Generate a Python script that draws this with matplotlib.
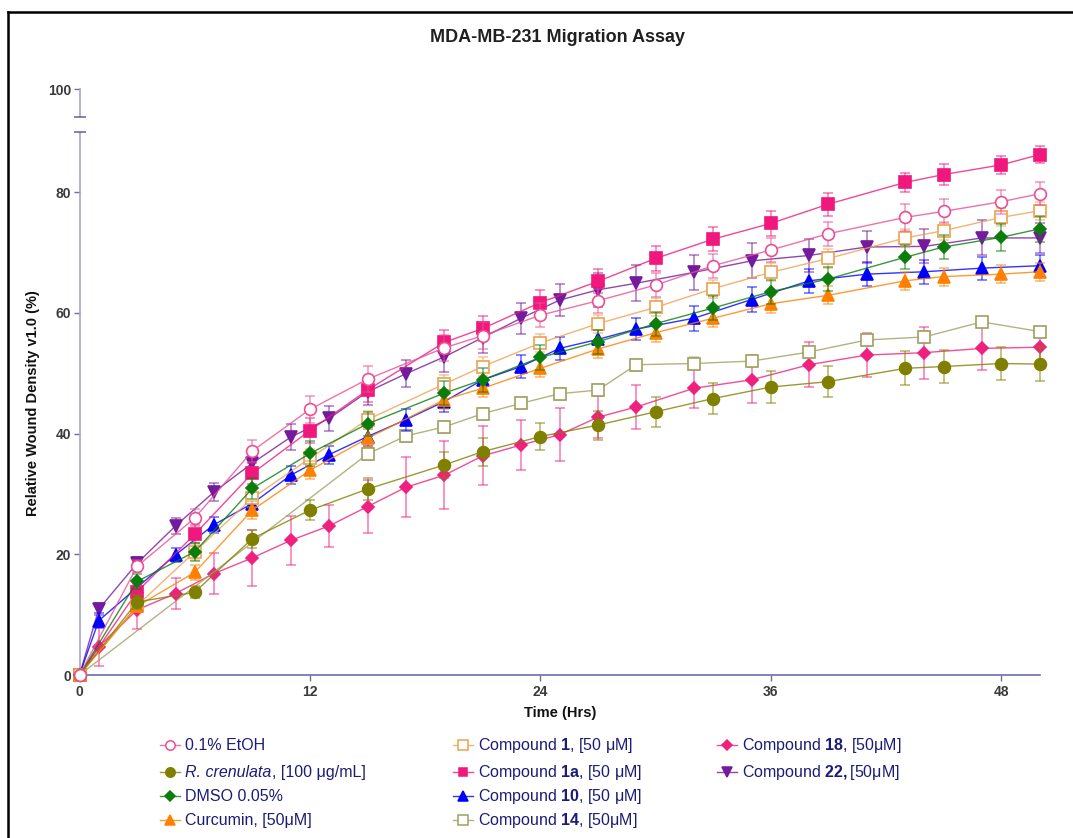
import matplotlib
matplotlib.use('Agg')
import matplotlib.pyplot as plt
from matplotlib.lines import Line2D

plt.rcParams['font.family'] = ['Liberation Sans', 'DejaVu Sans']
plt.rcParams['mathtext.fontset'] = 'custom'
plt.rcParams['mathtext.rm'] = 'Liberation Sans'
plt.rcParams['mathtext.it'] = 'Liberation Sans:italic'
plt.rcParams['mathtext.bf'] = 'Liberation Sans:bold'

# ---------------- data ----------------
t_a = [0, 3, 6, 9, 12, 15, 19, 21, 24, 27, 30, 33, 36, 39, 43, 45, 48, 50]
t_b = [0, 1, 3, 5, 7, 9, 11, 13, 15, 17, 19, 21, 23, 25, 27, 29, 32, 35, 38, 41, 44, 47, 50]
t_14 = [0, 15, 17, 19, 21, 23, 25, 27, 29, 32, 35, 38, 41, 44, 47, 50]

etoh = [0, 18.0, 26.0, 37.1, 44.0, 49.0, 54.2, 56.2, 59.6, 62.0, 64.6, 67.8, 70.4, 73.1, 75.8, 76.8, 78.4, 79.7]
etoh_err = [0, 1.0, 1.5, 1.8, 2.2, 2.2, 2.2, 2.2, 2.0, 2.0, 2.0, 2.0, 2.0, 2.0, 2.2, 2.0, 2.0, 1.9]

rcren = [0, 12.1, 13.7, 22.6, 27.3, 30.8, 34.8, 37.0, 39.5, 41.4, 43.6, 45.8, 47.7, 48.6, 50.8, 51.1, 51.6, 51.5]
rcren_err = [0, 1.2, 1.0, 1.5, 1.7, 1.8, 2.2, 2.3, 2.3, 2.4, 2.5, 2.5, 2.6, 2.6, 2.8, 2.8, 2.8, 2.8]

dmso = [0, 15.5, 20.4, 30.9, 36.7, 41.6, 46.7, 48.9, 52.6, 55.2, 58.2, 60.8, 63.5, 65.6, 69.2, 70.9, 72.5, 73.9]
dmso_err = [0, 1.2, 1.5, 1.8, 2.0, 2.0, 2.0, 2.0, 2.0, 2.0, 2.0, 2.0, 2.0, 2.0, 2.0, 2.0, 2.2, 2.1]

curcumin = [0, 11.4, 17.0, 27.3, 33.9, 39.2, 45.6, 47.5, 50.8, 54.0, 56.7, 59.1, 61.5, 62.9, 65.3, 66.0, 66.4, 66.8]
curcumin_err = [0, 1.0, 1.2, 1.5, 1.5, 1.5, 1.5, 1.5, 1.5, 1.5, 1.5, 1.5, 1.5, 1.5, 1.5, 1.5, 1.5, 1.5]

cmp1 = [0, 11.5, 20.4, 29.3, 35.9, 42.3, 48.2, 51.1, 55.0, 58.2, 60.9, 64.0, 66.7, 69.0, 72.4, 73.6, 75.8, 76.9]
cmp1_err = [0, 1.0, 1.3, 1.5, 1.5, 1.5, 1.5, 1.5, 1.5, 1.5, 1.5, 1.5, 1.5, 1.5, 1.5, 1.5, 1.5, 1.5]

cmp1a = [0, 13.8, 23.3, 33.4, 40.5, 47.2, 55.1, 57.4, 61.7, 65.2, 69.0, 72.2, 74.8, 78.0, 81.6, 82.9, 84.5, 86.2]
cmp1a_err = [0, 1.2, 1.5, 1.8, 2.0, 2.0, 2.0, 2.0, 2.0, 2.0, 2.1, 2.0, 2.1, 1.9, 1.6, 1.7, 1.5, 1.4]

cmp10 = [0, 9.0, 14.5, 19.9, 24.9, 28.4, 33.1, 36.5, 39.5, 42.3, 45.3, 48.9, 51.1, 54.1, 55.6, 57.3, 59.1, 62.2, 65.3, 66.4, 66.8, 67.4, 67.8]
cmp10_err = [0, 1.2, 1.2, 1.2, 1.3, 1.5, 1.5, 1.5, 1.6, 1.8, 1.8, 1.8, 1.9, 1.9, 1.9, 1.8, 2.1, 2.1, 2.0, 2.0, 2.0, 1.9, 1.8]

cmp14 = [0, 36.6, 39.6, 41.1, 43.3, 45.0, 46.6, 47.2, 51.4, 51.6, 52.0, 53.5, 55.5, 56.0, 58.5, 56.9]
cmp14_err = [0, 1.0, 1.0, 1.0, 1.0, 1.0, 1.0, 1.0, 1.0, 1.0, 1.0, 1.0, 1.0, 1.0, 0.8, 0.8]

cmp18 = [0, 4.7, 10.8, 13.5, 16.8, 19.4, 22.3, 24.7, 27.9, 31.1, 33.1, 36.3, 38.1, 39.8, 42.7, 44.4, 47.5, 48.9, 51.4, 53.0, 53.4, 54.1, 54.3]
cmp18_err = [0, 3.2, 3.2, 2.5, 3.4, 4.6, 4.0, 3.5, 4.4, 5.0, 5.6, 4.9, 4.2, 4.4, 3.5, 3.7, 3.3, 3.9, 3.7, 3.6, 4.3, 3.6, 3.0]

cmp22 = [0, 10.9, 18.5, 24.7, 30.3, 35.1, 39.4, 42.5, 46.9, 49.9, 52.7, 55.9, 59.1, 62.1, 63.8, 64.9, 66.7, 68.6, 69.5, 70.9, 71.0, 72.4, 72.4]
cmp22_err = [0, 1.0, 1.0, 1.3, 1.5, 2.0, 2.1, 2.1, 2.2, 2.2, 2.5, 2.5, 2.6, 2.7, 2.8, 3.0, 2.9, 2.9, 2.8, 2.6, 2.8, 2.9, 2.5]

# label parts: (italic prefix or None, rest)
labels = [
    (None, '0.1% EtOH'),
    ('R. crenulata', ', [100 μg/mL]'),
    (None, 'DMSO 0.05%'),
    (None, 'Curcumin, [50μM]'),
    (None, r'Compound $\mathbf{1}$, [50 μM]'),
    (None, r'Compound $\mathbf{1a}$, [50 μM]'),
    (None, r'Compound $\mathbf{10}$, [50 μM]'),
    (None, r'Compound $\mathbf{14}$, [50μM]'),
    (None, r'Compound $\mathbf{18}$, [50μM]'),
    (None, r'Compound $\mathbf{22,}$[50μM]'),
]
times = [t_a, t_a, t_a, t_a, t_a, t_a, t_b, t_14, t_b, t_b]
values = [etoh, rcren, dmso, curcumin, cmp1, cmp1a, cmp10, cmp14, cmp18, cmp22]
errors = [etoh_err, rcren_err, dmso_err, curcumin_err, cmp1_err, cmp1a_err,
          cmp10_err, cmp14_err, cmp18_err, cmp22_err]

# ---------------- styles ----------------
colors = ['#ea4f93', '#808000', '#0a7d0a', '#ff8000', '#efa050', '#f0187c',
          '#0000ff', '#a0a060', '#f0207f', '#741a9c']
markers = ['o', 'o', 'D', '^', 's', 's', '^', 's', 'D', 'v']
msizes = [8.5, 8.5, 6.3, 8.5, 8.3, 8, 8.5, 8.3, 6.3, 8.5]
filled = [False, True, True, True, False, True, True, False, True, True]

W, H = 1073, 838
fig = plt.figure(figsize=(W / 100, H / 100), dpi=100)


def fx(px):
    return px / W


def fy(py):
    return 1 - py / H


YSP = '#a4a4d0'
XSP = '#6c6cae'
TLC = '#3a3a3a'

ax = fig.add_axes([fx(79.5), fy(675), fx(1039.5) - fx(79.5), fy(131.7) - fy(675)])
axt = fig.add_axes([fx(79.5), fy(117), fx(1039.5) - fx(79.5), fy(89.5) - fy(117)])

for i in reversed(range(len(labels))):
    t, v, e, c = times[i], values[i], errors[i], colors[i]
    z = 10 + (len(labels) - i)
    ax.errorbar(t[1:], v[1:], yerr=e[1:], fmt='none', ecolor=c, alpha=0.6,
                elinewidth=1.1, capsize=3.6, capthick=1.1, zorder=z, clip_on=False)
    ax.plot(t, v, color=c, lw=1.0, alpha=0.8, zorder=z, clip_on=False)
    ax.plot(t, v, linestyle='none', marker=markers[i], ms=msizes[i],
            mfc=c if filled[i] else 'white', mec=c, mew=1.2, zorder=z + 0.5,
            clip_on=False)

ax.set_xlim(0, 50)
ax.set_ylim(0, 90)
ax.set_xticks([0, 12, 24, 36, 48])
ax.set_yticks([0, 20, 40, 60, 80])
axt.set_xlim(0, 50)
axt.set_ylim(100 - (117 - 89.5) / 6.035, 100)
axt.set_yticks([100])
axt.set_xticks([])

for a in (ax, axt):
    a.spines['top'].set_visible(False)
    a.spines['right'].set_visible(False)
    a.spines['left'].set_color(YSP)
    a.spines['left'].set_linewidth(1.2)
    a.tick_params(axis='y', direction='out', length=4, width=1, color=XSP,
                  labelcolor=TLC, labelsize=10, pad=2)
    a.patch.set_alpha(0)
axt.spines['bottom'].set_visible(False)
ax.spines['bottom'].set_color(XSP)
ax.spines['bottom'].set_linewidth(1.2)
ax.tick_params(axis='x', direction='out', length=4, width=1, color=XSP,
               labelcolor=TLC, labelsize=10, pad=3)
for lbl in ax.get_xticklabels() + ax.get_yticklabels() + axt.get_yticklabels():
    lbl.set_fontweight('bold')

# axis break marks
ax.plot([0], [90], marker='_', ms=9, mew=1.2, color=XSP, clip_on=False, zorder=30)
axt.plot([0], [axt.get_ylim()[0]], marker='_', ms=9, mew=1.2, color=XSP, clip_on=False, zorder=30)

# texts
fig.text(fx(558), fy(37), 'MDA-MB-231 Migration Assay', ha='center', va='center',
         fontsize=13, fontweight='bold', color='#202020')
fig.text(fx(560), fy(713), 'Time (Hrs)', ha='center', va='center',
         fontsize=10.5, fontweight='bold', color='#111111')
fig.text(fx(33), fy(403), 'Relative Wound Density v1.0 (%)', ha='center', va='center',
         rotation=90, fontsize=10.5, fontweight='bold', color='#111111')

# frame
fig.add_artist(Line2D([fx(8), fx(8)], [fy(12), 0], color='black', lw=1.8,
                      transform=fig.transFigure))
fig.add_artist(Line2D([fx(8), 1], [fy(12), fy(12)], color='black', lw=1.8,
                      transform=fig.transFigure))

# legend (manual layout)
renderer = fig.canvas.get_renderer()
col_x = [170, 463, 727]
row_y = [745, 772, 796, 820]
slots = [(0, 0), (0, 1), (0, 2), (0, 3), (1, 0), (1, 1), (1, 2), (1, 3), (2, 0), (2, 1)]
LEGC = '#1c1c78'
for i, (cc, rr) in enumerate(slots):
    x0 = col_x[cc]
    y0 = row_y[rr]
    c = colors[i]
    fig.add_artist(Line2D([fx(x0 - 10), fx(x0 + 10)], [fy(y0), fy(y0)], color=c, lw=1.0,
                          alpha=0.8, transform=fig.transFigure))
    fig.add_artist(Line2D([fx(x0)], [fy(y0)], linestyle='none', marker=markers[i],
                          ms=msizes[i] * 0.8, mfc=c if filled[i] else 'white', mec=c,
                          mew=1.1, transform=fig.transFigure))
    ital, rest = labels[i]
    xt = x0 + 15
    if ital:
        ti = fig.text(fx(xt), fy(y0), ital, ha='left', va='center', fontsize=11.5,
                      fontstyle='italic', color=LEGC)
        bb = ti.get_window_extent(renderer=renderer)
        xt = bb.x1 + 0.5
    fig.text(fx(xt), fy(y0), rest, ha='left', va='center', fontsize=11.5, color=LEGC)

fig.savefig('out.png', dpi=100)
